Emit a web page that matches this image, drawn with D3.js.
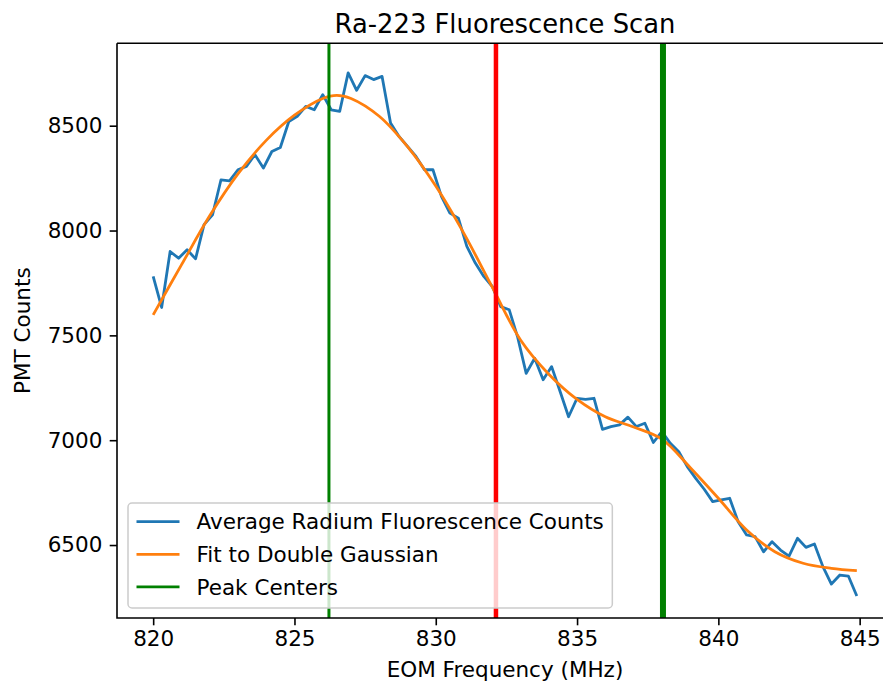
<!DOCTYPE html>
<html>
<head>
<meta charset="utf-8">
<script src="https://cdn.jsdelivr.net/npm/d3@7"></script>
<style>
  body { margin: 0; background: #fff; }
  text { font-family: "DejaVu Sans", sans-serif; fill: #000; }
</style>
</head>
<body>
<svg id="chart" width="883" height="688"></svg>
<script>
// scan frequencies (MHz), 0.3 MHz steps
var freqs = [
  820.0, 820.3, 820.6, 820.9, 821.2, 821.5, 821.8, 822.1, 822.4, 822.7,
  823.0, 823.3, 823.6, 823.9, 824.2, 824.5, 824.8, 825.1, 825.4, 825.7,
  826.0, 826.3, 826.6, 826.9, 827.2, 827.5, 827.8, 828.1, 828.4, 828.7,
  829.0, 829.3, 829.6, 829.9, 830.2, 830.5, 830.8, 831.1, 831.4, 831.7,
  832.0, 832.3, 832.6, 832.9, 833.2, 833.5, 833.8, 834.1, 834.4, 834.7,
  835.0, 835.3, 835.6, 835.9, 836.2, 836.5, 836.8, 837.1, 837.4, 837.7,
  838.0, 838.3, 838.6, 838.9, 839.2, 839.5, 839.8, 840.1, 840.4, 840.7,
  841.0, 841.3, 841.6, 841.9, 842.2, 842.5, 842.8, 843.1, 843.4, 843.7,
  844.0, 844.3, 844.6, 844.9
];
// average PMT counts at each frequency
var counts = [
  7781, 7633, 7900, 7868, 7908, 7865, 8028, 8075, 8242, 8237,
  8290, 8306, 8362, 8298, 8377, 8396, 8520, 8545, 8592, 8576,
  8648, 8576, 8568, 8752, 8669, 8739, 8720, 8735, 8513, 8449,
  8401, 8353, 8290, 8290, 8163, 8083, 8059, 7924, 7845, 7781,
  7733, 7637, 7622, 7490, 7319, 7391, 7288, 7351, 7232, 7112,
  7200, 7195, 7200, 7052, 7065, 7073, 7110, 7065, 7081, 6989,
  7041, 6985, 6945, 6874, 6818, 6766, 6707, 6715, 6723, 6611,
  6548, 6540, 6468, 6516, 6476, 6447, 6532, 6489, 6505, 6397,
  6314, 6357, 6352, 6257
];
// double gaussian fit
var fitFreqs = [820, 821, 822, 823, 824, 825, 826, 826.5, 827, 828, 829, 830, 831, 832,
  833, 834, 835, 836, 837, 838, 839, 840, 841, 842, 843, 844, 844.9];
var fitCounts = [7598, 7836, 8070, 8270, 8430, 8550, 8630, 8645, 8630, 8545, 8400, 8212, 7985, 7730,
  7478, 7315, 7195, 7112, 7063, 7005, 6870, 6723, 6572, 6468, 6413, 6389, 6378];
var peakCenters = [826.22, 838.04];
var midPoint = 832.13;
var xTicks = [820, 825, 830, 835, 840, 845];
var yTicks = [6500, 7000, 7500, 8000, 8500];
var legendLabels = ['Average Radium Fluorescence Counts', 'Fit to Double Gaussian', 'Peak Centers'];
var legendColors = ['#1f77b4', '#ff7f0e', '#008000'];

var svg = d3.select('#chart');
var pLeft = 117, pRight = 893, pTop = 43.3, pBottom = 618;

var xScale = d3.scaleLinear()
  .domain([818.72, 846.18])
  .range([pLeft, pRight]);
var yScale = d3.scaleLinear()
  .domain([6152, 8893])
  .range([pBottom, pTop]);

svg.append('clipPath').attr('id', 'plotClip')
  .append('rect')
  .attr('x', pLeft).attr('y', pTop)
  .attr('width', pRight - pLeft).attr('height', pBottom - pTop);

var plot = svg.append('g').attr('clip-path', 'url(#plotClip)');

var dataLine = d3.line()
  .x(function (d, i) { return xScale(freqs[i]); })
  .y(function (d) { return yScale(d); });

plot.append('path')
  .attr('d', dataLine(counts))
  .attr('fill', 'none')
  .attr('stroke', '#1f77b4')
  .attr('stroke-width', 2.8)
  .attr('stroke-linejoin', 'round');

var fitLine = d3.line()
  .x(function (d, i) { return xScale(fitFreqs[i]); })
  .y(function (d) { return yScale(d); })
  .curve(d3.curveCatmullRom);

plot.append('path')
  .attr('d', fitLine(fitCounts))
  .attr('fill', 'none')
  .attr('stroke', '#ff7f0e')
  .attr('stroke-width', 2.8);

// peak centers
plot.selectAll('.peak')
  .data(peakCenters)
  .enter()
  .append('line')
  .attr('class', 'peak')
  .attr('x1', function (d) { return xScale(d); })
  .attr('x2', function (d) { return xScale(d); })
  .attr('y1', pTop)
  .attr('y2', pBottom)
  .attr('stroke', '#008000')
  .attr('stroke-width', function (d, i) { return i === 0 ? 3 : 6; });

// midpoint between peaks
plot.append('line')
  .attr('x1', xScale(midPoint))
  .attr('x2', xScale(midPoint))
  .attr('y1', pTop)
  .attr('y2', pBottom)
  .attr('stroke', '#ff0000')
  .attr('stroke-width', 4.5);

// axes
var xAxis = svg.append('g')
  .attr('transform', 'translate(0,' + pBottom + ')')
  .call(d3.axisBottom(xScale).tickValues(xTicks).tickSize(7.3).tickPadding(5)
    .tickFormat(d3.format('d')));
var yAxis = svg.append('g')
  .attr('transform', 'translate(' + pLeft + ',0)')
  .call(d3.axisLeft(yScale).tickValues(yTicks).tickSize(7.3).tickPadding(7.3)
    .tickFormat(d3.format('d')));

[xAxis, yAxis].forEach(function (ax) {
  ax.select('.domain').remove();
  ax.selectAll('line').attr('stroke', '#000').attr('stroke-width', 1.6);
  ax.selectAll('text').attr('font-size', '21.5px').attr('fill', '#000')
    .style('font-family', '"DejaVu Sans", sans-serif');
});

// spines
svg.append('path')
  .attr('d', 'M' + pLeft + ',' + pTop + 'H' + pRight + 'M' + pLeft + ',' + pTop + 'V' + pBottom + 'H' + pRight)
  .attr('fill', 'none')
  .attr('stroke', '#000')
  .attr('stroke-width', 1.6);

// labels
svg.append('text')
  .attr('x', (pLeft + pRight) / 2)
  .attr('y', 33)
  .attr('text-anchor', 'middle')
  .attr('font-size', '25.8px')
  .text('Ra-223 Fluorescence Scan');

svg.append('text')
  .attr('x', (pLeft + pRight) / 2)
  .attr('y', 677)
  .attr('text-anchor', 'middle')
  .attr('font-size', '21.5px')
  .text('EOM Frequency (MHz)');

svg.append('text')
  .attr('transform', 'translate(30,' + (pTop + pBottom) / 2 + ') rotate(-90)')
  .attr('text-anchor', 'middle')
  .attr('font-size', '21.5px')
  .text('PMT Counts');

// legend
var legend = svg.append('g');
var legendBox = legend.append('rect')
  .attr('x', 128)
  .attr('y', 503)
  .attr('height', 105)
  .attr('rx', 4)
  .attr('fill', '#fff')
  .attr('fill-opacity', 0.8)
  .attr('stroke', '#cccccc')
  .attr('stroke-width', 1.5);

var rows = legend.selectAll('.row')
  .data(legendLabels)
  .enter()
  .append('g')
  .attr('class', 'row')
  .attr('transform', function (d, i) { return 'translate(0,' + (521.7 + i * 32.6) + ')'; });

rows.append('line')
  .attr('x1', 136.5).attr('x2', 179.5)
  .attr('y1', 0).attr('y2', 0)
  .attr('stroke', function (d, i) { return legendColors[i]; })
  .attr('stroke-width', 2.8);

rows.append('text')
  .attr('x', 196.5)
  .attr('y', 7.7)
  .attr('font-size', '21.5px')
  .text(function (d) { return d; });

var maxW = d3.max(rows.selectAll('text').nodes(), function (n) { return n.getComputedTextLength(); });
legendBox.attr('width', 196.5 + maxW + 8.5 - 128);
</script>
</body>
</html>
